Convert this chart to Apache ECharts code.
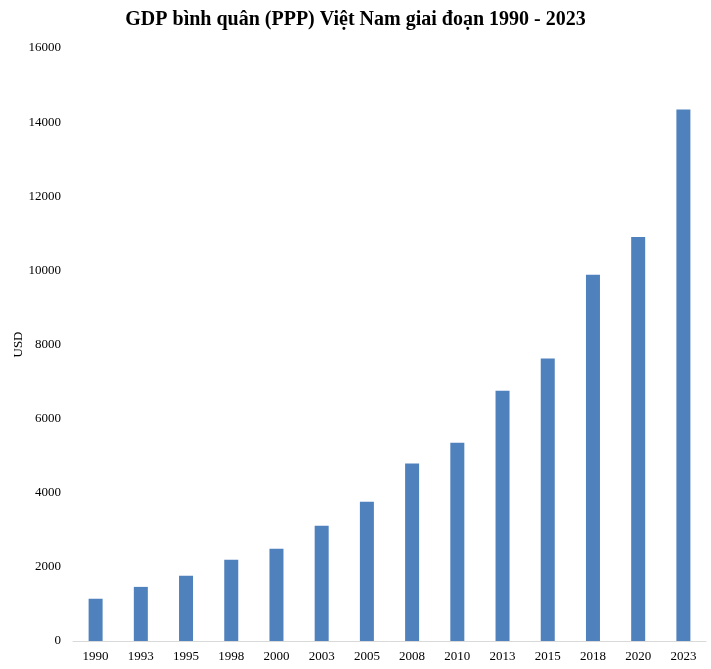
<!DOCTYPE html>
<html>
<head>
<meta charset="utf-8">
<script src="https://cdn.jsdelivr.net/npm/echarts@6/dist/echarts.min.js"></script>
<style>
  html, body { margin: 0; padding: 0; background: #fff; }
  #chart { width: 711px; height: 669px; }
</style>
</head>
<body>
<div id="chart"></div>
<script>
const years = ['1990', '1993', '1995', '1998', '2000', '2003', '2005', '2008', '2010', '2013', '2015', '2018', '2020', '2023']
const gdpPpp = [1140, 1460, 1760, 2190, 2490, 3110, 3760, 4790, 5350, 6750, 7620, 9880, 10900, 14340]

const chart = echarts.init(document.getElementById('chart'))
const serif = '"Liberation Serif", "Times New Roman", serif'

chart.setOption({
  animation: false,
  title: {
    text: 'GDP bình quân (PPP) Việt Nam giai đoạn 1990 - 2023',
    left: 'center',
    top: 5,
    textStyle: {
      fontFamily: serif,
      fontSize: 20,
      fontWeight: 'bold',
      color: '#000'
    }
  },
  grid: {
    left: 73,
    right: 5,
    top: 48,
    bottom: 28,
    outerBoundsMode: 'none'
  },
  xAxis: {
    type: 'category',
    data: years,
    axisLine: { lineStyle: { color: '#d9d9d9' } },
    axisTick: { show: false },
    axisLabel: {
      fontFamily: serif,
      fontSize: 13,
      color: '#000',
      margin: 9
    }
  },
  yAxis: {
    type: 'value',
    min: 0,
    max: 16000,
    interval: 2000,
    name: 'USD',
    nameLocation: 'middle',
    nameGap: 56,
    nameMoveOverlap: false,
    nameTextStyle: {
      fontFamily: serif,
      fontSize: 13,
      color: '#000',
      padding: [0, 0, -8, 0]
    },
    splitLine: { show: false },
    axisLine: { show: false },
    axisTick: { show: false },
    axisLabel: {
      fontFamily: serif,
      fontSize: 13,
      color: '#000',
      margin: 12,
      formatter: v => String(v)
    }
  },
  series: [{
    type: 'bar',
    data: gdpPpp,
    barWidth: 14,
    itemStyle: { color: '#4F81BD' }
  }]
})
</script>
</body>
</html>
